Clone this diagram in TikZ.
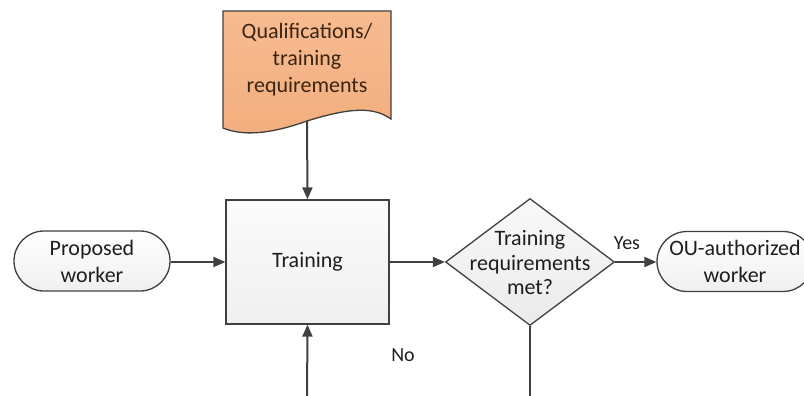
\documentclass[tikz,border=0pt]{standalone}
\usepackage{fontspec}
\setmainfont{Carlito}
\usetikzlibrary{arrows.meta,shapes.geometric}
\definecolor{lineC}{HTML}{404040}
\definecolor{txtC}{HTML}{1E1E1E}
\definecolor{docTxt}{HTML}{3A2414}
\definecolor{docC}{HTML}{F7BB90}
\definecolor{docD}{HTML}{F2AE7E}
\tikzset{
  every node/.style={font=\fontsize{22}{27}\selectfont, text=txtC, align=center},
  conn/.style={draw=lineC, line width=2pt},
  arr/.style={conn, -{Triangle[length=12pt,width=10pt]}},
  shapeline/.style={draw=lineC, line width=1.3pt},
  terminal/.style={shapeline, rounded corners=30pt, minimum width=156pt, minimum height=60pt, inner sep=0pt, top color=white, bottom color=gray!12},
  procbox/.style={shapeline, rectangle, minimum width=163pt, minimum height=124pt, inner sep=0pt, top color=gray!3, bottom color=gray!12},
  decision/.style={shapeline, diamond, minimum width=169pt, minimum height=127pt, inner sep=0pt, top color=gray!5, bottom color=gray!16},
  lbl/.style={font=\fontsize{20}{24}\selectfont}
}
\begin{document}
\begin{tikzpicture}[x=1pt,y=-1pt]
\useasboundingbox (0,0) rectangle (804,396);
\begin{scope}
\clip (0,0) rectangle (804,396);
% document shape
\path[shapeline, top color=docC, bottom color=docD]
  (223,11) -- (391,11) -- (391,119)
  .. controls (375,108) and (355,106) .. (307,121)
  .. controls (265,136) and (240,135) .. (223,128) -- cycle;
\node[text=docTxt] (doc) at (307,60) {Qualifications/\\training\\requirements};
\coordinate (docb) at (307,121);

\node[procbox] (train) at (307.5,262) {Training};
\node[terminal] (prop) at (92,261) {Proposed\\worker};
\node[decision] (dec) at (530,262) {};
\node[font=\fontsize{22}{24.5}\selectfont] (decT) at (530,263) {Training\\requirements\\met?};
\node[terminal] (ou) at (735,261.5) {OU-authorized\\worker};

\coordinate (loopA) at (307,400);
\coordinate (loopB) at (530,400);

\draw[arr] (docb) -- (train.north);
\draw[arr] (prop.east |- train.west) -- (train.west);
\draw[arr] (train.east) -- (dec.west);
\draw[arr] (dec.east) -- (ou.west |- dec.east);
\draw[arr] (loopA) -- (train.south);
\draw[conn] (dec.south) -- (loopB);

\node[lbl] (yes) at (627,243) {Yes};
\node[lbl] (no) at (403,355) {No};
\end{scope}
\end{tikzpicture}
\end{document}
